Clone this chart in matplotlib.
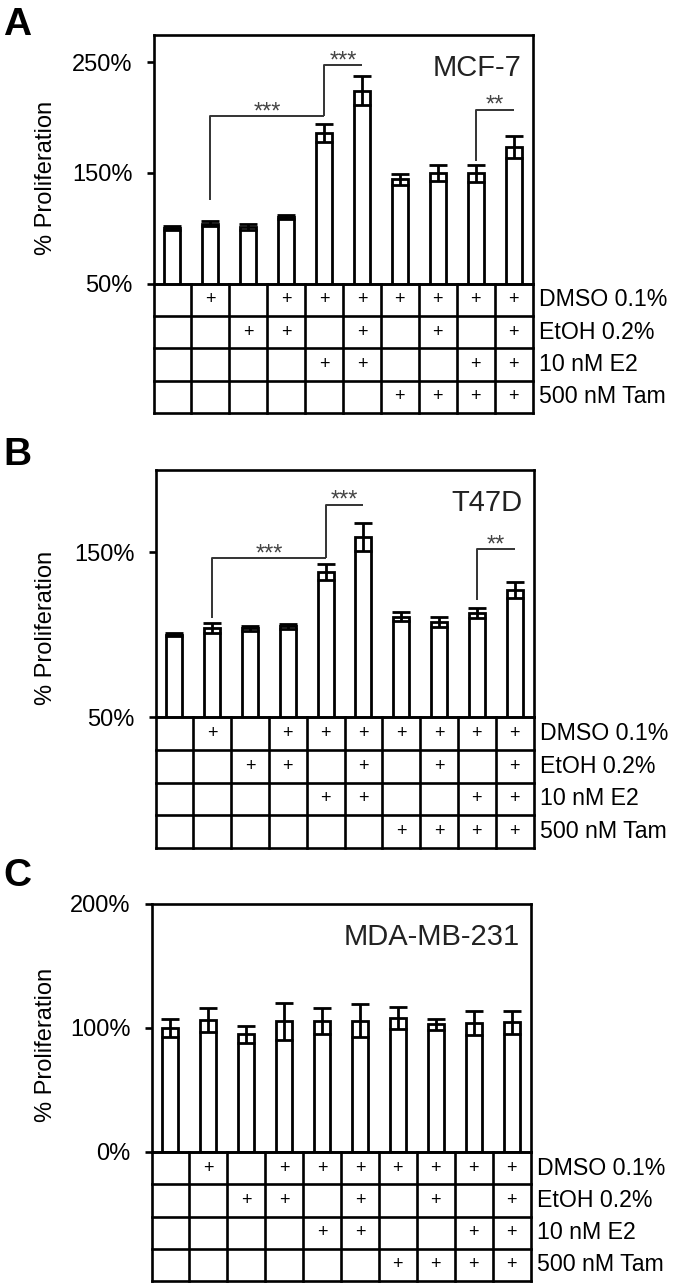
import matplotlib
matplotlib.use("Agg")
import matplotlib.pyplot as plt
import numpy as np

plt.rcParams['font.family'] = ['Liberation Sans', 'DejaVu Sans']

# ---------------- data ----------------
row_labels = ['DMSO 0.1%', 'EtOH 0.2%', '10 nM E2', '500 nM Tam']
dmso = [0, 1, 0, 1, 1, 1, 1, 1, 1, 1]
etoh = [0, 0, 1, 1, 0, 1, 0, 1, 0, 1]
e2 = [0, 0, 0, 0, 1, 1, 0, 0, 1, 1]
tam = [0, 0, 0, 0, 0, 0, 1, 1, 1, 1]

mcf7_mean = [100, 104, 101, 110, 186, 224, 144, 150, 149.5, 173]
mcf7_err = [1.5, 2, 2.5, 1.5, 8, 13, 5, 7, 7.5, 10]
mcf7_sig = [(1, 4, 125, 201, '***'), (4, 5, 201, 247, '***'), (8, 9, 161, 207, '**')]
mcf7_ticks = [50, 150, 250]

t47d_mean = [100, 104, 104, 105, 138, 159.5, 111, 107.5, 113, 127]
t47d_err = [1, 3, 1.5, 1.5, 5, 8.5, 3, 3, 3, 5]
t47d_sig = [(1, 4, 110, 146.5, '***'), (4, 5, 146.5, 179, '***'), (8, 9, 121, 152, '**')]
t47d_ticks = [50, 150]

mda_mean = [100, 106.5, 95, 105.5, 106, 106, 108, 103, 104, 104.5]
mda_err = [7, 10, 7, 15, 10.5, 13, 9, 4.5, 10, 9.5]
mda_sig = []
mda_ticks = [0, 100, 200]

panels = [
    dict(letter='A', name='MCF-7', mean=mcf7_mean, err=mcf7_err, sig=mcf7_sig,
         ticks=mcf7_ticks, ylim=(50, 274.4),
         box=(153.5, 532.5, 35, 283.5, 413), letter_top=7, ylab_y=178),
    dict(letter='B', name='T47D', mean=t47d_mean, err=t47d_err, sig=t47d_sig,
         ticks=t47d_ticks, ylim=(50, 200),
         box=(155.5, 533.5, 470, 717, 848), letter_top=437, ylab_y=628),
    dict(letter='C', name='MDA-MB-231', mean=mda_mean, err=mda_err, sig=mda_sig,
         ticks=mda_ticks, ylim=(0, 200),
         box=(151.5, 530.5, 904, 1152, 1281), letter_top=858, ylab_y=1045),
]

W, H = 673, 1285
fig = plt.figure(figsize=(W / 100, H / 100), dpi=100)

table = [dmso, etoh, e2, tam]
LW = 1.9

for p in panels:
    l, r, t, b, tb = p['box']
    ax = fig.add_axes([l / W, 1 - b / H, (r - l) / W, (b - t) / H])
    n = len(p['mean'])
    x = np.arange(n)
    ax.bar(x, p['mean'], width=0.42, color='white', edgecolor='black', linewidth=2.0, zorder=2)
    ax.errorbar(x, p['mean'], yerr=p['err'], fmt='none', ecolor='black',
                elinewidth=2.0, capsize=6.3, capthick=2.0, zorder=3)
    ax.set_xlim(-0.5, n - 0.5)
    ax.set_ylim(*p['ylim'])
    ax.set_yticks(p['ticks'])
    ax.set_yticklabels([f'{v}%' for v in p['ticks']])
    ax.set_xticks([])
    ax.tick_params(axis='y', direction='out', length=5, width=1.9, pad=10, labelsize=17)
    for s in ax.spines.values():
        s.set_linewidth(LW)
    for (i1, i2, y1, y2, stars) in p['sig']:
        ax.plot([i1, i1, i2], [y1, y2, y2], color='#333333', lw=1.4, zorder=4,
                solid_capstyle='butt')
        ax.annotate(stars, xy=((i1 + i2) / 2, y2), xytext=(0, -1.5),
                    textcoords='offset points', ha='center', va='baseline',
                    fontsize=17, color='#444444')
    ax.text(0.971, 0.925, p['name'], transform=ax.transAxes, ha='right', va='top',
            fontsize=21, color='#222222')

    # condition table
    tax = fig.add_axes([l / W, 1 - tb / H, (r - l) / W, (tb - b) / H])
    tax.set_xlim(-0.5, n - 0.5)
    tax.set_ylim(0, 4)
    tax.axis('off')
    for yy in range(5):
        tax.plot([-0.5, n - 0.5], [yy, yy], color='black', lw=LW, clip_on=False,
                 solid_capstyle='projecting')
    for xx in np.arange(-0.5, n, 1.0):
        tax.plot([xx, xx], [0, 4], color='black', lw=LW, clip_on=False,
                 solid_capstyle='projecting')
    for ri, row in enumerate(table):
        yc = 3.5 - ri
        for ci, v in enumerate(row):
            if v:
                tax.text(ci, yc, '+', ha='center', va='center', fontsize=13)
        tax.annotate(row_labels[ri], xy=(n - 0.5, yc), xytext=(5, 0),
                     textcoords='offset points', ha='left', va='center',
                     fontsize=16.7, annotation_clip=False)

    fig.text(3 / W, 1 - p['letter_top'] / H, p['letter'], ha='left', va='top',
             fontsize=28, fontweight='bold')
    fig.text(46 / W, 1 - p['ylab_y'] / H, '% Proliferation', rotation=90,
             ha='center', va='center', fontsize=17)

fig.savefig('out.png', dpi=100)
